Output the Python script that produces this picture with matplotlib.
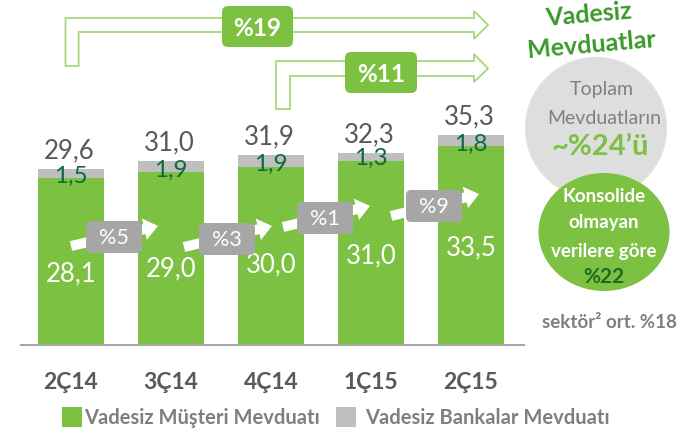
import matplotlib
matplotlib.use('Agg')
import matplotlib.pyplot as plt
from matplotlib.patches import Polygon, FancyBboxPatch, Ellipse, Rectangle, FancyArrow

plt.rcParams['font.family'] = ['Lato', 'DejaVu Sans']

# veriler (milyar TL)
donemler = ['2Ç14', '3Ç14', '4Ç14', '1Ç15', '2Ç15']
musteri = [28.1, 29.0, 30.0, 31.0, 33.5]
bankalar = [1.5, 1.9, 1.9, 1.3, 1.8]
toplam = [29.6, 31.0, 31.9, 32.3, 35.3]
ceyreklik_buyume = ['%5', '%3', '%1', '%9']
yillik_buyume = '%19'
alti_aylik_buyume = '%11'
# beyaz etiketlerin bar icindeki yuksekligi (bar oranı)
etiket_oran = [0.43, 0.445, 0.455, 0.49, 0.495]

YESIL = '#7dc142'
GRI = '#bfbfbf'
KOYU_YESIL = '#0e6b3a'

W, H = 681, 435
fig = plt.figure(figsize=(W / 100, H / 100), dpi=100)

# ana grafik
ax = fig.add_axes([21 / W, (H - 346) / H, (524 - 21) / W, 300 / H])
x = list(range(len(donemler)))
ax.bar(x, musteri, width=0.66, color=YESIL, zorder=2)
ax.bar(x, bankalar, width=0.66, bottom=musteri, color=GRI, zorder=2)
ax.set_xlim(-0.5, 4.53)
ax.set_ylim(0, 300 / 5.95)

for i in x:
    ax.annotate(f'{toplam[i]:.1f}'.replace('.', ','), (i, musteri[i] + bankalar[i]),
                xytext=(-1, 14), textcoords='offset points', ha='center', va='center',
                fontsize=18.5, color='#595959')
    ax.annotate(f'{bankalar[i]:.1f}'.replace('.', ','), (i, musteri[i]),
                xytext=(0, 2), textcoords='offset points', ha='center', va='center',
                fontsize=17.5, color=KOYU_YESIL)
    ax.text(i, musteri[i] * etiket_oran[i], f'{musteri[i]:.1f}'.replace('.', ','),
            ha='center', va='center', fontsize=18.5, color='white', zorder=3)

ax.set_xticks(x)
ax.set_xticklabels(donemler, fontsize=16.5, fontweight='bold', color='#595959')
ax.tick_params(axis='x', length=0, pad=19)
ax.set_yticks([])
for s in ['top', 'left', 'right']:
    ax.spines[s].set_visible(False)
ax.spines['bottom'].set_color('#a6a6a6')
ax.spines['bottom'].set_linewidth(1.5)

# piksel koordinatli ust katman
ov = fig.add_axes([0, 0, 1, 1], zorder=5)
ov.set_xlim(0, W)
ov.set_ylim(H, 0)
ov.axis('off')
ov.patch.set_alpha(0)

# ceyreklik buyume oklari
oklar = [((71, 247), (158, 227)), ((184, 248), (272, 227)),
         ((283, 228), (370, 207)), ((391, 217), (479, 195))]
kutular = [(114, 238), (227, 240), (325, 219), (434, 207)]
for (p0, p1), (cx, cy), t in zip(oklar, kutular, ceyreklik_buyume):
    ov.add_patch(FancyArrow(p0[0], p0[1], p1[0] - p0[0], p1[1] - p0[1], width=10,
                            head_width=22, head_length=14, length_includes_head=True,
                            color='white', lw=0))
    ov.add_patch(FancyBboxPatch((cx - 24, cy - 12), 48, 24,
                                boxstyle='round,pad=4,rounding_size=5',
                                fc='#a6a6a6', ec='none'))
    ov.text(cx, cy, t, ha='center', va='center', fontsize=15.5, color='white')

# buyuk ici bos oklar
def bos_ok(x0, x1, alt, ust, shaft_alt, uc_x, bas_ust, bas_alt):
    orta = (ust + shaft_alt) / 2
    pts = [(x0, alt), (x0, ust), (uc_x - 14, ust), (uc_x - 14, bas_ust), (uc_x, orta),
           (uc_x - 14, bas_alt), (uc_x - 14, shaft_alt), (x1, shaft_alt), (x1, alt)]
    ov.add_patch(Polygon(pts, closed=True, fc='white', ec='#a8d67c', lw=1.3))

bos_ok(65.5, 78.6, 67, 19, 33, 488, 12, 40)
bos_ok(276, 290, 110, 62, 77, 488, 55, 83)

for (x0, y0, x1, y1), t in [((222, 7, 293, 48), yillik_buyume),
                            ((345, 53, 417, 94), alti_aylik_buyume)]:
    ov.add_patch(FancyBboxPatch((x0 + 5, y0 + 5), x1 - x0 - 10, y1 - y0 - 10,
                                boxstyle='round,pad=5,rounding_size=6', fc=YESIL, ec='none'))
    ov.text((x0 + x1) / 2, (y0 + y1) / 2 + 1, t, ha='center', va='center',
            fontsize=17.5, fontweight='bold', color='white')

# sag taraf
ov.text(589, 15, 'Vadesiz', ha='center', va='center', fontsize=18, fontweight='bold',
        color='#3a9a2a', rotation=5)
ov.text(592, 45, 'Mevduatlar', ha='center', va='center', fontsize=18, fontweight='bold',
        color='#3a9a2a', rotation=5)

ov.add_patch(Ellipse((596, 129), 142, 142, fc='#dedede', ec='none'))
ov.text(602, 90, 'Toplam', ha='center', va='center', fontsize=14, color='#808080')
ov.text(604, 118, 'Mevduatların', ha='center', va='center', fontsize=14, color='#808080')
ov.text(600, 147, '~%24’ü', ha='center', va='center', fontsize=21, fontweight='bold',
        color=YESIL)

ov.add_patch(Ellipse((604, 233), 131, 118, fc=YESIL, ec='none'))
for yy, t in [(197, 'Konsolide'), (223, 'olmayan'), (251, 'verilere göre')]:
    ov.text(604, yy, t, ha='center', va='center', fontsize=13.5, fontweight='bold',
            color='white')
ov.text(604, 277, '%22', ha='center', va='center', fontsize=15, fontweight='bold',
        color='#1e6b1e')
ov.text(609, 323, 'sektör² ort. %18', ha='center', va='center', fontsize=13.5,
        fontweight='bold', color='#7f7f7f')

# lejant
ov.add_patch(Rectangle((62, 408), 20, 20, fc=YESIL, ec='none'))
ov.text(84, 418, 'Vadesiz Müşteri Mevduatı', ha='left', va='center', fontsize=14.5,
        fontweight='bold', color='#7f7f7f')
ov.add_patch(Rectangle((336, 408), 20, 20, fc=GRI, ec='none'))
ov.text(365, 418, 'Vadesiz Bankalar Mevduatı', ha='left', va='center', fontsize=14.5,
        fontweight='bold', color='#7f7f7f')

fig.savefig('out.png', dpi=100)
